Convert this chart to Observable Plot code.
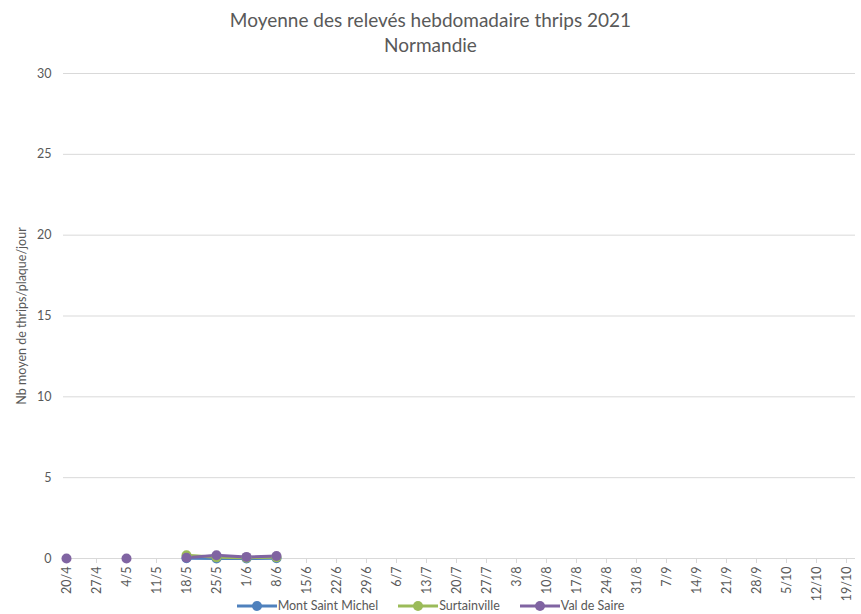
<!DOCTYPE html>
<html><head><meta charset="utf-8">
<script src="https://cdn.jsdelivr.net/npm/d3@7"></script>
<script src="https://cdn.jsdelivr.net/npm/@observablehq/plot@0.6"></script>
<style>
body{margin:0;background:#fff;font-family:Lato, "Noto Sans", sans-serif;}
#title{height:60px;text-align:center;color:#595959;font-size:19px;line-height:25px;padding-top:7px;box-sizing:border-box}
#legend{height:16px;line-height:16px;margin-top:-8px;text-align:center;color:#595959;font-size:12.5px;white-space:nowrap;position:relative}
#legend span.item{display:inline-flex;align-items:center;margin:0 10px}
#legend svg{margin-right:1px}
</style></head><body>
<div id="title">Moyenne des relevés hebdomadaire thrips 2021<br>Normandie</div>
<div id="chart"></div>
<div id="legend"></div>
<script>
const dates = ["20/4","27/4","4/5","11/5","18/5","25/5","1/6","8/6","15/6","22/6","29/6","6/7","13/7","20/7","27/7","3/8","10/8","17/8","24/8","31/8","7/9","14/9","21/9","28/9","5/10","12/10","19/10"];
const seriesNames = ["Mont Saint Michel","Surtainville","Val de Saire"];
const colors = ["#4F81BD","#9BBB59","#8064A2"];
const montSaintMichel = [null,null,null,null,0.02,0.0,0.0,0.02];
const surtainville    = [null,null,null,null,0.2,0.07,0.05,0.07];
const valDeSaire      = [0,null,0,null,0.05,0.2,0.1,0.15];
const yTicks = [0,5,10,15,20,25,30];

const seriesValues = [montSaintMichel, surtainville, valDeSaire];
const data = [];
seriesValues.forEach((vals, i) => {
  dates.forEach((d, j) => {
    const v = j < vals.length ? vals[j] : null;
    data.push({date: d, value: v, series: seriesNames[i]});
  });
});
const pts = data.filter(d => d.value != null);

const plot = Plot.plot({
  width: 861, height: 546,
  marginTop: 13, marginBottom: 48, marginLeft: 63, marginRight: 6,
  style: {fontFamily: "Lato, 'Noto Sans', sans-serif", fontSize: "12.5px", color: "#595959", background: "#fff"},
  x: {type: "point", domain: dates, range: [63, 849], padding: 0, label: null},
  y: {domain: [0, 30], label: null},
  color: {domain: seriesNames, range: colors},
  marks: [
    Plot.ruleY(yTicks, {stroke: "#d9d9d9", strokeWidth: 1}),
    Plot.axisY({ticks: yTicks, tickSize: 0, tickPadding: 12, label: "Nb moyen de thrips/plaque/jour", labelAnchor: "center", labelArrow: "none", labelOffset: 46, fontSize: 12.5}),
    Plot.axisX({tickRotate: -90, tickSize: 5, tickPadding: 3, stroke: "#d9d9d9", fill: "#595959", label: null}),
    Plot.line(data, {x: "date", y: "value", z: "series", stroke: "series", strokeWidth: 3}),
    Plot.dot(pts, {x: "date", y: "value", fill: "series", r: 5})
  ]
});
document.getElementById("chart").appendChild(plot);

const leg = document.getElementById("legend");
seriesNames.forEach((name, i) => {
  const item = document.createElement("span");
  item.className = "item";
  item.innerHTML = `<svg width="40" height="12"><line x1="0" x2="40" y1="6" y2="6" stroke="${colors[i]}" stroke-width="3"/><circle cx="20" cy="6" r="5" fill="${colors[i]}"/></svg>`;
  const t = document.createElement("span");
  t.textContent = name;
  item.appendChild(t);
  leg.appendChild(item);
});
</script>
</body></html>
